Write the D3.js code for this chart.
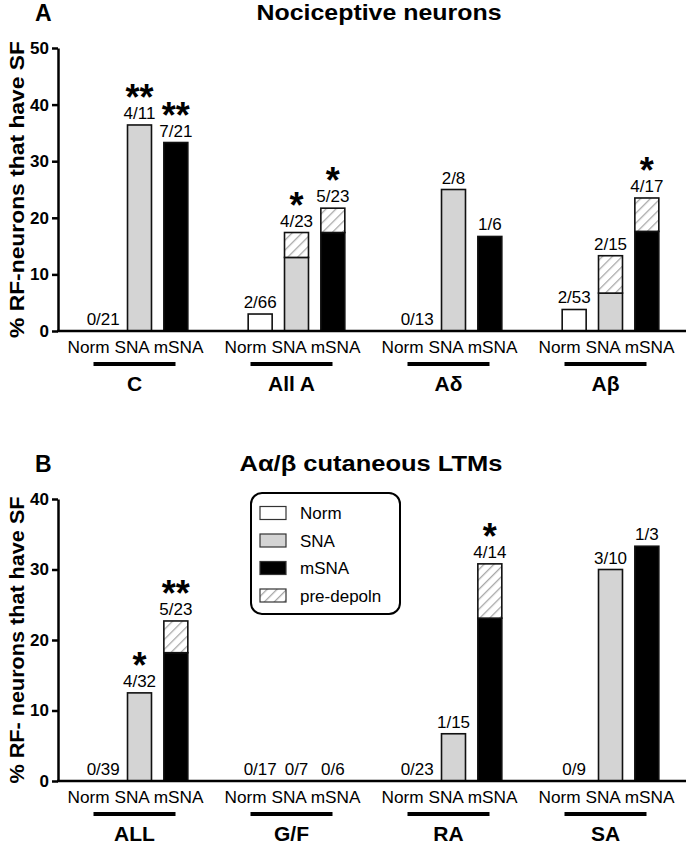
<!DOCTYPE html>
<html>
<head>
<meta charset="utf-8">
<script src="https://cdn.jsdelivr.net/npm/d3@7"></script>
<style>
  body { margin: 0; background: #fff; }
  svg { display: block; font-family: "Liberation Sans", Arial, sans-serif; }
</style>
</head>
<body>
<svg id="chart" width="689" height="844"></svg>
<script>
// series shown in every group
var seriesKeys = ["Norm", "SNA", "mSNA"];

// panel A : nociceptive neurons
var groupsA = ["C", "All A", "A\u03b4", "A\u03b2"];
var normA = [0, 3.0, 0, 3.8];
var snaA = [36.4, 13.0, 25.0, 6.7];
var msnaA = [33.3, 17.4, 16.7, 17.6];
var snaPreA = [0, 4.4, 0, 6.6];     // pre-depoln (hatched, on top)
var msnaPreA = [0, 4.3, 0, 5.9];
var countsA = [["0/21", "4/11", "7/21"], ["2/66", "4/23", "5/23"], ["0/13", "2/8", "1/6"], ["2/53", "2/15", "4/17"]];
var starsA = [["", "**", "**"], ["", "*", "*"], ["", "", ""], ["", "", "*"]];
var ticksA = [0, 10, 20, 30, 40, 50];

// panel B : A alpha/beta cutaneous LTMs
var groupsB = ["ALL", "G/F", "RA", "SA"];
var normB = [0, 0, 0, 0];
var snaB = [12.5, 0, 6.7, 30.0];
var msnaB = [18.2, 0, 23.1, 33.3];
var snaPreB = [0, 0, 0, 0];
var msnaPreB = [4.5, 0, 7.7, 0];
var countsB = [["0/39", "4/32", "5/23"], ["0/17", "0/7", "0/6"], ["0/23", "1/15", "4/14"], ["0/9", "3/10", "1/3"]];
var starsB = [["", "*", "**"], ["", "", ""], ["", "", "*"], ["", "", ""]];
var ticksB = [0, 10, 20, 30, 40];

var legendKeys = ["Norm", "SNA", "mSNA", "pre-depoln"];

var fills = { "Norm": "#ffffff", "SNA": "#d4d4d4", "mSNA": "#000000" };

var svg = d3.select("#chart");

// hatch for pre-depolarisation
var defs = svg.append("defs");
defs.append("pattern")
	.attr("id", "hatch")
	.attr("patternUnits", "userSpaceOnUse")
	.attr("width", 7).attr("height", 7)
	.attr("patternTransform", "rotate(45)")
	.call(p => p.append("rect").attr("width", 7).attr("height", 7).attr("fill", "#fff"))
	.call(p => p.append("line")
		.attr("x1", 0).attr("y1", 0).attr("x2", 0).attr("y2", 7)
		.attr("stroke", "#a8a8a8").attr("stroke-width", 2.6));

function buildRows(groups, norm, sna, msna, snaPre, msnaPre, counts, stars) {
	return groups.map((g, i) => ({
		group: g,
		bars: [
			{ key: "Norm", solid: norm[i], pre: 0, count: counts[i][0], star: stars[i][0] },
			{ key: "SNA", solid: sna[i], pre: snaPre[i], count: counts[i][1], star: stars[i][1] },
			{ key: "mSNA", solid: msna[i], pre: msnaPre[i], count: counts[i][2], star: stars[i][2] }
		]
	}));
}

function panel(opt) {
	var rows = buildRows.apply(null, opt.data);
	var g = svg.append("g");

	var x0 = d3.scaleBand().domain(rows.map(d => d.group)).range([61, 689]);
	var x1 = d3.scaleBand().domain(seriesKeys).range([-54.5, 54.5]).paddingInner(0.34).paddingOuter(0.17);
	var y = d3.scaleLinear().domain([0, opt.max]).range([opt.base, opt.top]);
	var cx = d => x0(d) + x0.bandwidth() / 2;

	// panel letter + title
	g.append("text").attr("x", 35).attr("y", opt.top - 27)
		.attr("font-size", 23).attr("font-weight", "bold").text(opt.letter);
	g.append("text").attr("x", opt.titleX).attr("y", opt.top - 28)
		.attr("text-anchor", "middle").attr("font-size", 22).attr("font-weight", "bold")
		.attr("textLength", opt.titleLen).attr("lengthAdjust", "spacingAndGlyphs")
		.text(opt.title);

	// y axis
	g.append("g")
		.attr("transform", "translate(58,0)")
		.call(d3.axisLeft(y).tickValues(opt.ticks).tickFormat(d3.format("d")).tickSize(6).tickSizeOuter(0).tickPadding(3))
		.call(a => a.selectAll("path, line").attr("stroke", "#000").attr("stroke-width", 2.5))
		.call(a => a.selectAll("text").attr("font-size", 17).attr("font-weight", "bold")
			.attr("font-family", "'Liberation Sans', Arial, sans-serif").attr("fill", "#000"));

	g.append("text")
		.attr("transform", `translate(24,${(opt.top + opt.base) / 2}) rotate(-90)`)
		.attr("text-anchor", "middle").attr("font-size", 20).attr("font-weight", "bold")
		.attr("textLength", opt.yLabelLen).attr("lengthAdjust", "spacingAndGlyphs")
		.text(opt.yLabel);

	var grp = g.selectAll(".grp").data(rows).join("g")
		.attr("class", "grp")
		.attr("transform", d => `translate(${cx(d.group)},0)`);

	var bar = grp.selectAll(".bar").data(d => d.bars).join("g").attr("class", "bar");

	bar.filter(d => d.solid > 0).append("rect")
		.attr("x", d => x1(d.key)).attr("width", x1.bandwidth())
		.attr("y", d => y(d.solid)).attr("height", d => y(0) - y(d.solid))
		.attr("fill", d => fills[d.key]).attr("stroke", "#111").attr("stroke-width", 1.6);

	bar.filter(d => d.pre > 0).append("rect")
		.attr("x", d => x1(d.key)).attr("width", x1.bandwidth())
		.attr("y", d => y(d.solid + d.pre)).attr("height", d => y(d.solid) - y(d.solid + d.pre))
		.attr("fill", "url(#hatch)").attr("stroke", "#111").attr("stroke-width", 1.6);

	var labelY = d => y(d.solid + d.pre) - 6;
	bar.append("text")
		.attr("x", d => x1(d.key) + x1.bandwidth() / 2)
		.attr("y", labelY)
		.attr("text-anchor", "middle").attr("font-size", 17)
		.text(d => d.count);

	bar.filter(d => d.star).append("text")
		.attr("x", d => x1(d.key) + x1.bandwidth() / 2)
		.attr("y", d => labelY(d) - 9)
		.attr("text-anchor", "middle").attr("font-size", 36).attr("font-weight", "bold")
		.text(d => d.star);

	// baseline
	g.append("line")
		.attr("x1", 57).attr("x2", 686)
		.attr("y1", y(0)).attr("y2", y(0))
		.attr("stroke", "#000").attr("stroke-width", 2.5);

	// category labels + group underline + group name
	grp.append("text")
		.attr("x", -4).attr("y", y(0) + 22)
		.attr("text-anchor", "middle").attr("font-size", 17)
		.attr("textLength", 136).attr("lengthAdjust", "spacingAndGlyphs")
		.text(seriesKeys.join(" "));
	grp.append("line")
		.attr("x1", -46).attr("x2", 36)
		.attr("y1", y(0) + 33).attr("y2", y(0) + 33)
		.attr("stroke", "#000").attr("stroke-width", 4);
	grp.append("text")
		.attr("x", -5).attr("y", y(0) + 60)
		.attr("text-anchor", "middle").attr("font-size", 21).attr("font-weight", "bold")
		.text(d => d.group);

	return y;
}

panel({
	letter: "A", title: "Nociceptive neurons", titleX: 379, titleLen: 245,
	yLabel: "% RF-neurons that have SF", yLabelLen: 297,
	data: [groupsA, normA, snaA, msnaA, snaPreA, msnaPreA, countsA, starsA],
	max: 50, ticks: ticksA, top: 48, base: 331
});

panel({
	letter: "B", title: "A\u03b1/\u03b2 cutaneous LTMs", titleX: 371, titleLen: 263,
	yLabel: "% RF- neurons that have SF", yLabelLen: 287,
	data: [groupsB, normB, snaB, msnaB, snaPreB, msnaPreB, countsB, starsB],
	max: 40, ticks: ticksB, top: 499, base: 781
});

// legend
var lg = svg.append("g").attr("transform", "translate(251,493)");
lg.append("rect").attr("width", 149).attr("height", 121).attr("rx", 11)
	.attr("fill", "#fff").attr("stroke", "#000").attr("stroke-width", 2);
var item = lg.selectAll(".item").data(legendKeys).join("g")
	.attr("class", "item")
	.attr("transform", (d, i) => `translate(9,${20 + i * 27.5})`);
item.append("rect").attr("y", -6.5).attr("width", 26).attr("height", 13)
	.attr("fill", d => d === "pre-depoln" ? "url(#hatch)" : fills[d])
	.attr("stroke", "#333").attr("stroke-width", 1.2);
item.append("text").attr("x", 40).attr("y", 6).attr("font-size", 17).text(d => d);
</script>
</body>
</html>
